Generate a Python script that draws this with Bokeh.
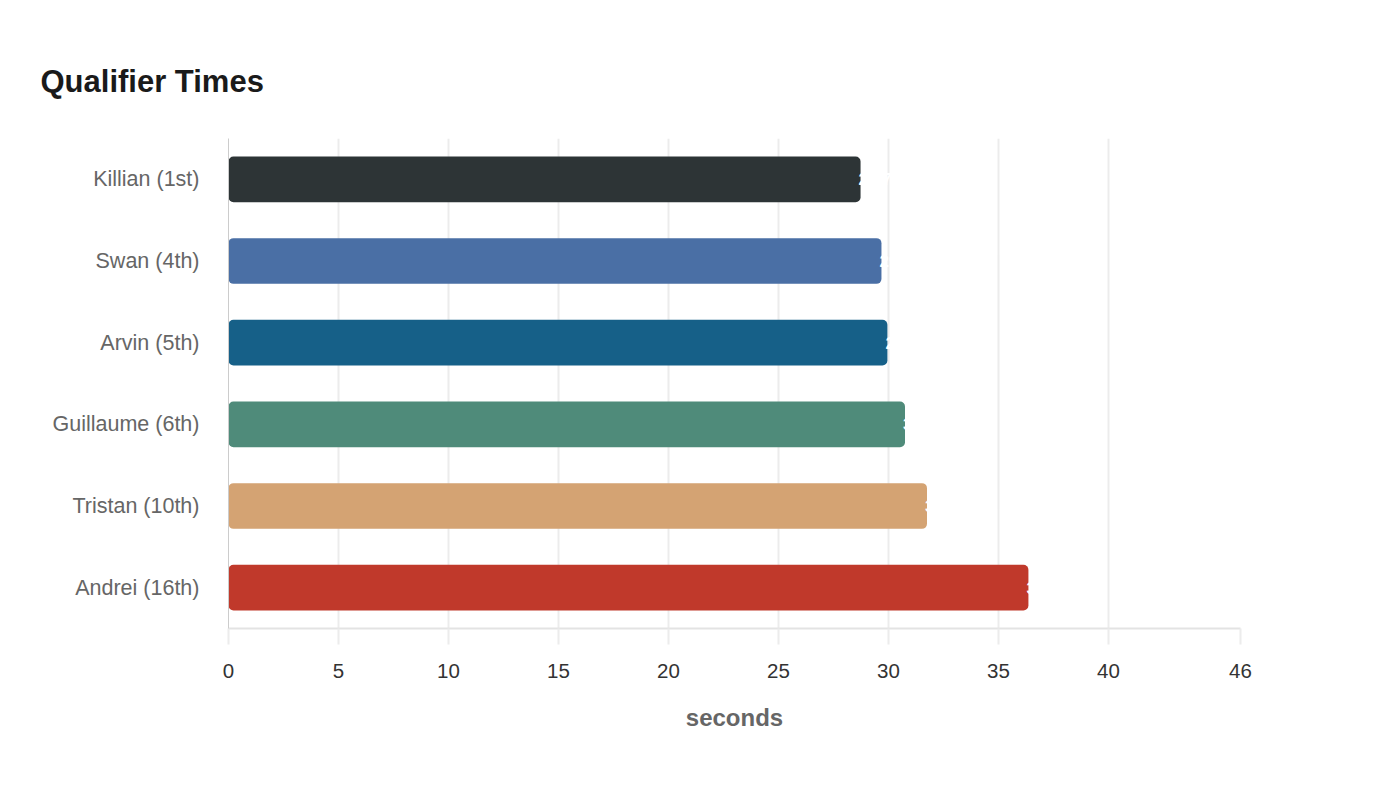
from bokeh.plotting import figure
from bokeh.models import ColumnDataSource, FixedTicker, FactorRange, Range1d
from bokeh.core.properties import value
from bokeh.embed import file_html
from bokeh.resources import INLINE

riders = ["Killian (1st)", "Swan (4th)", "Arvin (5th)", "Guillaume (6th)", "Tristan (10th)", "Andrei (16th)"]
times = [28.73, 29.68, 29.95, 30.75, 31.75, 36.36]
colors = ["#2d3436", "#4a6fa5", "#166088", "#4f8b7a", "#d4a373", "#c0392b"]
x_ticks = [0, 5, 10, 15, 20, 25, 30, 35, 40, 46]

src = ColumnDataSource(dict(rider=riders, time=times, color=colors,
                            label=[f"{t:.2f}" for t in times]))

FONT = "Liberation Sans"
p = figure(width=1388, height=733, output_backend="svg", toolbar_location=None,
           y_range=FactorRange(*riders[::-1], range_padding=0, factor_padding=0),
           x_range=Range1d(0, 46),
           min_border_left=228, min_border_right=148, min_border_top=138, min_border_bottom=0,
           title="Qualifier Times")
p.outline_line_color = None
p.background_fill_color = "white"
p.border_fill_color = "white"

p.title.text_font = FONT
p.title.text_font_size = "31px"
p.title.text_font_style = "bold"
p.title.text_color = "#1a1a1a"
p.title.align = "left"
p.title.offset = -188
p.title.standoff = 80

p.hbar(y="rider", right="time", left=0, height=0.56, source=src, color="color",
       line_color=None, border_radius=5)
p.text(x="time", y="rider", text="label", source=src, text_color="white",
       text_align="left", text_baseline="middle", x_offset=-2,
       text_font=value(FONT), text_font_size="17px", text_font_style="bold")

xa = p.xaxis[0]
xa.ticker = FixedTicker(ticks=x_ticks)
xa.axis_line_color = "#e3e3e3"
xa.axis_line_width = 2
xa.major_tick_line_color = "#ececec"
xa.major_tick_line_width = 2
xa.major_tick_out = 16
xa.major_tick_in = 0
xa.minor_tick_line_color = None
xa.major_label_text_font = FONT
xa.major_label_text_font_size = "20.5px"
xa.major_label_text_color = "#333333"
xa.major_label_standoff = 19
xa.axis_label = "seconds"
xa.axis_label_text_font = FONT
xa.axis_label_text_font_size = "24px"
xa.axis_label_text_font_style = "bold"
xa.axis_label_text_color = "#666666"
xa.axis_label_standoff = 23

ya = p.yaxis[0]
ya.axis_line_color = "#cccccc"
ya.axis_line_width = 1
ya.major_tick_line_color = None
ya.minor_tick_line_color = None
ya.major_label_text_font = FONT
ya.major_label_text_font_size = "21.5px"
ya.major_label_text_color = "#666666"
ya.major_label_standoff = 23

p.xgrid.grid_line_color = "#ececec"
p.xgrid.grid_line_width = 2
p.xgrid.ticker = FixedTicker(ticks=x_ticks)
p.ygrid.grid_line_color = None

open("out.html", "w").write(file_html(p, INLINE))
